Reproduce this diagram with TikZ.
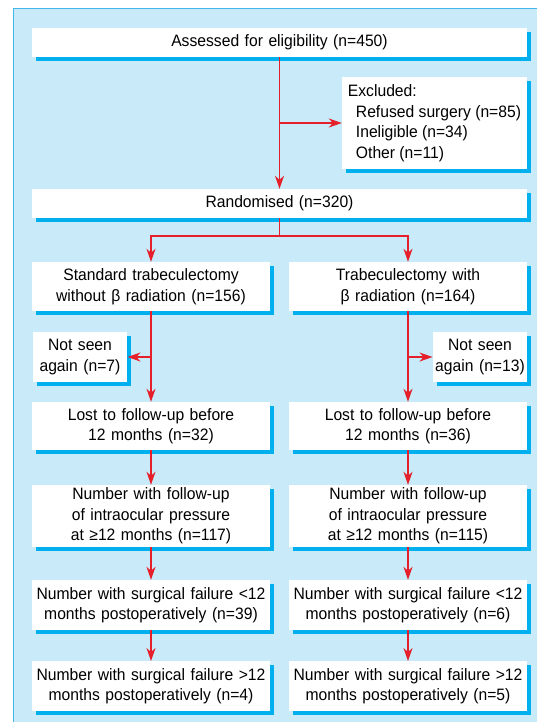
\documentclass[tikz,border=0pt]{standalone}
\usepackage{fontspec}
\setmainfont[FakeStretch=0.95]{Liberation Sans}
\usetikzlibrary{arrows.meta,shadows}
\definecolor{panelblue}{HTML}{C8EAF9}
\definecolor{edgeblue}{HTML}{45B6EA}
\definecolor{shadeblue}{HTML}{00B0EE}
\definecolor{flowred}{HTML}{E5202A}

\begin{document}
\begin{tikzpicture}[x=1pt,y=-1pt,>={Stealth[length=13pt,width=9pt,inset=4pt]},
  flow/.style={->,draw=flowred,line width=1.3pt},
  box/.style={rectangle,fill=white,inner sep=0pt,align=center,
    font=\fontsize{16.5}{20.5}\selectfont,
    drop shadow={shadow xshift=4pt,shadow yshift=-4pt,fill=shadeblue,opacity=1}},
  wide node/.style={box,text width=495.5pt,minimum height=29pt},
  arm node/.style={box,text width=238.5pt,minimum height=#1},
  side node/.style={box,text width=94.5pt,minimum height=50pt},
  excl node/.style={box,minimum width=185pt,minimum height=92pt,align=left}]
  \useasboundingbox (0,0) rectangle (537,722);
  % background panel
  \fill[panelblue] (13.5,8.5) rectangle (537,722);
  \draw[edgeblue,line width=1.2pt] (13.5,722) -- (13.5,8.5) -- (537,8.5);

  \node[wide node] (assess) at (279.5,42.5) {Assessed for eligibility (n=450)};
  \node[excl node] (excl) at (434.5,123) {Excluded:\\
    \hspace*{8pt}Refused surgery (n=85)\\
    \hspace*{8pt}Ineligible (n=34)\\
    \hspace*{8pt}Other (n=11)};
  \node[wide node] (rand) at (279.5,203.5) {Randomised (n=320)};
  \coordinate (split) at (279.5,236);

  % left arm
  \node[arm node=49pt] (std) at (151,286.5) {Standard trabeculectomy\\without β radiation (n=156)};
  \node[side node] (notl) at (80,357) {Not seen\\again (n=7)};
  \node[arm node=48pt] (lostl) at (151,426) {Lost to follow-up before\\12 months (n=32)};
  \node[arm node=62pt] (iopl) at (151,516) {Number with follow-up\\of intraocular pressure\\at ≥12 months (n=117)};
  \node[arm node=50pt] (earlyl) at (151,605) {Number with surgical failure <12\\months postoperatively (n=39)};
  \node[arm node=49.5pt] (latel) at (151,686) {Number with surgical failure >12\\months postoperatively (n=4)};

  % right arm
  \node[arm node=49pt] (beta) at (408,286.5) {Trabeculectomy with\\β radiation (n=164)};
  \node[side node] (notr) at (480,357) {Not seen\\again (n=13)};
  \node[arm node=48pt] (lostr) at (408,426) {Lost to follow-up before\\12 months (n=36)};
  \node[arm node=62pt] (iopr) at (408,516) {Number with follow-up\\of intraocular pressure\\at ≥12 months (n=115)};
  \node[arm node=50pt] (earlyr) at (408,605) {Number with surgical failure <12\\months postoperatively (n=6)};
  \node[arm node=49.5pt] (later) at (408,686) {Number with surgical failure >12\\months postoperatively (n=5)};

  \draw[flow] (assess.south) -- (rand.north);
  \draw[flow] (assess.south |- excl.west) -- (excl.west);
  \draw[flow] (rand.south) -- (split) -| (std.north);
  \draw[flow] (rand.south) -- (split) -| (beta.north);

  \draw[flow] (std) -- (lostl);
  \draw[flow] (std.south |- notl.east) -- (notl);
  \draw[flow] (lostl) -- (iopl);
  \draw[flow] (iopl) -- (earlyl);
  \draw[flow] (earlyl) -- (latel);

  \draw[flow] (beta) -- (lostr);
  \draw[flow] (beta.south |- notr.west) -- (notr);
  \draw[flow] (lostr) -- (iopr);
  \draw[flow] (iopr) -- (earlyr);
  \draw[flow] (earlyr) -- (later);
\end{tikzpicture}
\end{document}
